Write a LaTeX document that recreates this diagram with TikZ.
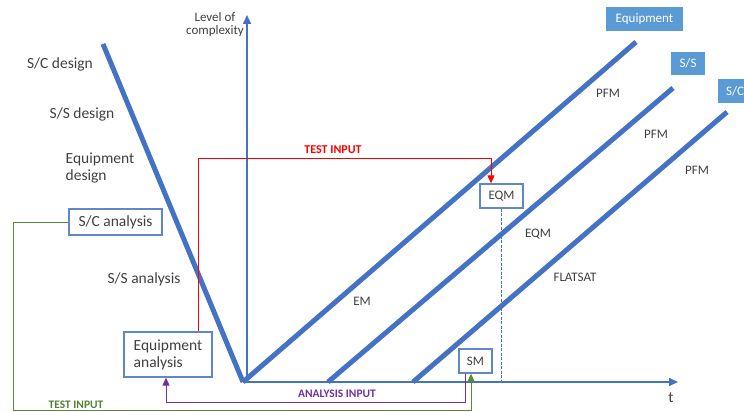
\documentclass[tikz,border=0pt]{standalone}
\usepackage{fontspec}
\setmainfont{Carlito}
\usetikzlibrary{arrows.meta}
\definecolor{bl}{HTML}{4472C4}
\definecolor{bxf}{HTML}{5B9BD5}
\definecolor{txt}{HTML}{404040}
\definecolor{rd}{HTML}{FF0000}
\definecolor{gr}{HTML}{70AD47}
\definecolor{grt}{HTML}{548235}
\definecolor{pu}{HTML}{7030A0}
\begin{document}
\begin{tikzpicture}[x=1pt,y=-1pt,
  thickline/.style={line width=5pt, draw=bl},
  axisline/.style={line width=1.6pt, draw=bl, -{Triangle[length=9pt,width=8pt]}},
  box/.style={draw=bl!85, line width=1.3pt, fill=white, text=txt, inner sep=0pt},
  tagbox/.style={fill=bxf, text=white, font=\fontsize{13}{15}\selectfont, inner sep=0pt},
  big/.style={text=txt, font=\fontsize{15.5}{18}\selectfont},
  small/.style={text=txt, font=\fontsize{13}{15}\selectfont},
  conn/.style={line width=1pt}
]
\useasboundingbox (0,0) rectangle (744,412);
\clip (0,0) rectangle (744,412);

% axes
\coordinate (v) at (243,382);
\coordinate (yb) at (247,382);
\coordinate (yt) at (247,15);
\coordinate (tx) at (678,382);
\draw[axisline] (yb) -- (yt);
\draw[axisline] (v) -- (tx);

% design line
\coordinate (d) at (103,44);
\draw[thickline] (d) -- (v);

% diagonal lines
\coordinate (e1) at (636,42);
\coordinate (s0) at (328,382);
\coordinate (s1) at (673,88);
\coordinate (c0) at (413,382);
\coordinate (c1) at (727,112);
\draw[thickline] (v) -- (e1);
\draw[thickline] (s0) -- (s1);
\draw[thickline] (c0) -- (c1);

% tags
\node[tagbox, minimum width=77pt, minimum height=24pt] (tagEq) at (644.5,19) {Equipment};
\node[tagbox, minimum width=34pt, minimum height=23pt] (tagSS) at (688,63.5) {S/S};
\node[tagbox, minimum width=34pt, minimum height=24pt, anchor=west] (tagSC) at (718,91) {S/C};

% axis labels
\node[small, align=center] (lvl) at (215,25) {Level of\\[-2pt]complexity};
\node[big] (tlab) at (671,398) {t};

% left labels
\node[big] (scd) at (60,64) {S/C design};
\node[big] (ssd) at (82,114) {S/S design};
\node[big, align=left] (eqd) at (100,168) {Equipment\\[-1pt]design};
\node[big] (ssa) at (144,279) {S/S analysis};

% boxes
\node[box, big, minimum width=93pt, minimum height=26pt] (sca) at (115.5,222) {S/C analysis};
\node[box, big, align=left, minimum width=88pt, minimum height=45pt] (eqa) at (168,354.5) {Equipment\\[-1pt]analysis};
\node[box, small, minimum width=43pt, minimum height=24pt] (eqm) at (501.5,196) {EQM};
\node[box, small, minimum width=33pt, minimum height=24pt] (sm) at (475.5,361) {SM};

% line labels
\node[small] (pfm1) at (608,93) {PFM};
\node[small] (pfm2) at (656,134) {PFM};
\node[small] (pfm3) at (697,170) {PFM};
\node[small] (eqm2) at (538,234) {EQM};
\node[small] (flat) at (575,277) {FLATSAT};
\node[small] (em) at (362,301) {EM};

% dashed
\draw[bl, line width=0.8pt, dashed, dash pattern=on 3pt off 1.5pt] (eqm.south) -- (eqm.south |- yb);

% red test input
\coordinate (r1) at (491,158);
\draw[rd, conn, -{Triangle[length=8pt,width=7pt]}] ([xshift=-14pt]eqa.north east) |- (r1) -- ([xshift=-10.5pt]eqm.north);
\node[text=rd, font=\bfseries\fontsize{12}{14}\selectfont] (ti1) at (333,150) {TEST INPUT};

% green test input
\coordinate (g1) at (13,410);
\draw[gr!80!black, conn, -{Triangle[length=8pt,width=7pt]}] (sca.west) -| (g1) -| ([xshift=-4.5pt]sm.south);
\node[text=grt, font=\bfseries\fontsize{11.5}{14}\selectfont] (ti2) at (76,405) {TEST INPUT};

% purple analysis input
\coordinate (p1) at (465,402);
\draw[pu, conn, -{Triangle[length=8pt,width=7pt]}] ([xshift=-10.5pt]sm.south) -- (p1) -| ([xshift=-2pt]eqa.south);
\node[text=pu, font=\bfseries\fontsize{11.5}{14}\selectfont] (ai) at (337,394) {ANALYSIS INPUT};
\end{tikzpicture}
\end{document}
